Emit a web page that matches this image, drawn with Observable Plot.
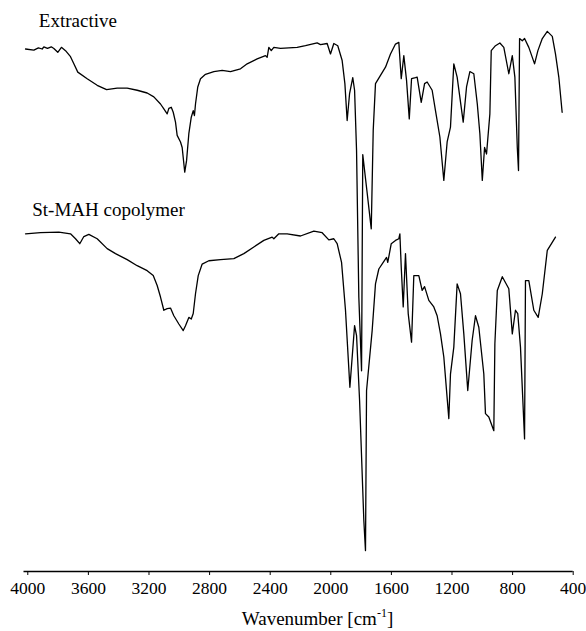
<!DOCTYPE html>
<html>
<head>
<meta charset="utf-8">
<script src="https://cdn.jsdelivr.net/npm/d3@7"></script>
<script src="https://cdn.jsdelivr.net/npm/@observablehq/plot@0.6"></script>
<style>
  body { margin: 0; background: #fff; }
  #chart svg { display: block; }
</style>
</head>
<body>
<div id="chart"></div>
<script>
// ---- Data ----
const seriesNames = ["Extractive", "St-MAH copolymer"];
const xTicks = [4000, 3600, 3200, 2800, 2400, 2000, 1600, 1200, 800, 400];
const xLabel = "Wavenumber [cm";
const xLabelSup = "-1";

// Extractive: wavenumber (cm-1) and transmittance (a.u., offset)
const extractiveWn = [4015,3960,3930,3905,3894,3870,3845,3828,3802,3778,3751,3718,3696,3670,3608,3542,3480,3410,3344,3278,3212,3168,3124,3102,3080,3069,3053,3040,3025,3014,2992,2981,2964,2952,2937,2921,2908,2900,2893,2878,2860,2827,2772,2717,2662,2596,2552,2486,2431,2420,2409,2393,2376,2332,2222,2167,2090,2068,2024,2002,1980,1954,1925,1907,1892,1876,1855,1843,1830,1815,1797,1789,1761,1733,1720,1705,1672,1639,1606,1573,1551,1535,1518,1500,1482,1467,1441,1430,1403,1381,1364,1331,1309,1280,1254,1232,1210,1188,1166,1126,1104,1082,1056,1033,1016,1000,985,972,950,941,913,884,858,825,802,785,769,761,754,736,721,693,655,633,604,571,538,517,495,473];
const extractiveT = [95.0,94.8,95.2,95.0,95.4,95.1,95.4,95.1,94.4,95.3,94.7,93.6,92.3,90.8,89.6,88.4,87.6,87.9,87.9,87.5,87.0,86.3,85.0,84.1,83.2,84.2,84.4,83.5,81.7,79.3,78.1,77.1,72.6,74.7,79.6,82.6,83.8,82.9,85.0,88.1,89.6,90.4,90.9,91.1,90.9,91.4,92.3,93.2,93.8,93.5,95.3,94.7,95.3,95.1,95.3,95.6,96.1,95.8,96.0,94.1,96.0,95.6,92.9,88.7,82.0,86.9,89.8,87.5,76.5,49.9,36.5,75.8,69.1,62.3,80.2,88.7,90.2,91.7,94.1,95.9,96.2,89.6,93.8,89.3,82.3,89.6,89.8,89.9,85.3,88.7,89.0,87.5,83.8,79.0,71.1,78.1,80.8,92.3,89.9,81.7,88.1,90.9,90.5,85.0,79.6,71.1,77.1,75.9,83.2,94.7,95.6,96.1,95.3,90.5,93.8,89.9,77.1,72.9,96.9,96.5,96.9,95.3,92.3,94.7,96.9,98.2,97.3,94.1,89.9,83.5];

// St-MAH copolymer
const copolymerWn = [4015,3916,3795,3718,3685,3657,3630,3597,3542,3476,3421,3344,3278,3212,3172,3146,3124,3102,3080,3058,3036,3003,2974,2959,2937,2921,2908,2893,2875,2849,2805,2728,2640,2574,2508,2442,2387,2376,2343,2288,2200,2112,2057,2013,1980,1958,1929,1903,1874,1843,1830,1810,1782,1771,1764,1727,1705,1683,1654,1632,1624,1601,1573,1551,1544,1535,1522,1507,1489,1467,1452,1419,1397,1381,1353,1320,1298,1276,1254,1221,1210,1188,1166,1144,1122,1096,1067,1045,1023,990,979,957,924,917,901,868,825,802,781,766,748,721,715,693,660,631,604,571,517];
const copolymerT = [61.4,61.6,61.7,61.4,60.5,59.6,60.9,61.3,60.5,58.7,57.8,56.7,55.6,54.7,53.8,52.0,49.9,47.5,47.8,47.9,46.5,45.0,43.8,44.7,46.2,45.9,46.9,50.5,53.8,55.9,56.5,56.7,56.9,57.8,59.0,60.2,60.8,60.5,61.4,61.4,61.0,61.9,61.6,60.3,60.5,59.6,56.2,47.5,33.5,44.7,42.9,31.1,9.3,3.8,32.9,43.8,52.3,55.0,56.2,57.1,56.2,59.6,60.2,60.5,61.4,55.3,48.1,57.8,46.9,41.7,53.8,53.8,51.1,51.8,49.3,48.1,46.5,43.2,39.0,27.8,35.9,40.8,52.3,50.5,43.2,32.9,42.0,46.5,44.4,35.9,28.7,28.1,25.6,41.4,51.1,53.6,51.4,43.2,47.5,46.9,40.8,24.1,52.9,52.9,47.5,46.2,50.5,58.4,60.8];

// ---- Build tables ----
const extractive = extractiveWn.map((w, i) => ({wn: w, t: extractiveT[i], series: seriesNames[0]}));
const copolymer = copolymerWn.map((w, i) => ({wn: w, t: copolymerT[i], series: seriesNames[1]}));

const serif = "'Liberation Serif', 'Times New Roman', Times, serif";

const chart = Plot.plot({
  width: 586,
  height: 631,
  marginLeft: 23.5,
  marginRight: 13.3,
  marginTop: 21,
  marginBottom: 60,
  style: {fontFamily: serif, background: "white", color: "black"},
  x: {domain: [4025, 400]},
  y: {domain: [0, 100], axis: null},
  marks: [
    Plot.ruleY([0], {stroke: "black", strokeWidth: 1.4}),
    Plot.axisX({
      ticks: xTicks,
      tickSize: 4,
      tickPadding: 6,
      tickFormat: d => String(d),
      fontSize: 17.5,
      label: null,
      stroke: "black"
    }),
    Plot.line(extractive, {x: "wn", y: "t", stroke: "black", strokeWidth: 1.3}),
    Plot.line(copolymer, {x: "wn", y: "t", stroke: "black", strokeWidth: 1.3}),
    Plot.text([extractive[0]], {
      x: "wn", y: "t", text: "series", textAnchor: "start", lineAnchor: "bottom",
      dx: 13.3, dy: -21.6, fontSize: 19, fill: "black"
    }),
    Plot.text([copolymer[0]], {
      x: "wn", y: "t", text: "series", textAnchor: "start", lineAnchor: "bottom",
      dx: 6.7, dy: -18.3, fontSize: 19, fill: "black"
    })
  ]
});

document.getElementById("chart").appendChild(chart);

// Axis title with superscript
const svg = d3.select(chart);
const title = svg.append("text")
  .attr("x", 317.5)
  .attr("y", 625)
  .attr("text-anchor", "middle")
  .attr("font-family", serif)
  .attr("font-size", 19)
  .attr("fill", "black");
title.append("tspan").text(xLabel);
title.append("tspan").attr("font-size", 12).attr("dy", -8).text(xLabelSup);
title.append("tspan").attr("dy", 8).text("]");
</script>
</body>
</html>
